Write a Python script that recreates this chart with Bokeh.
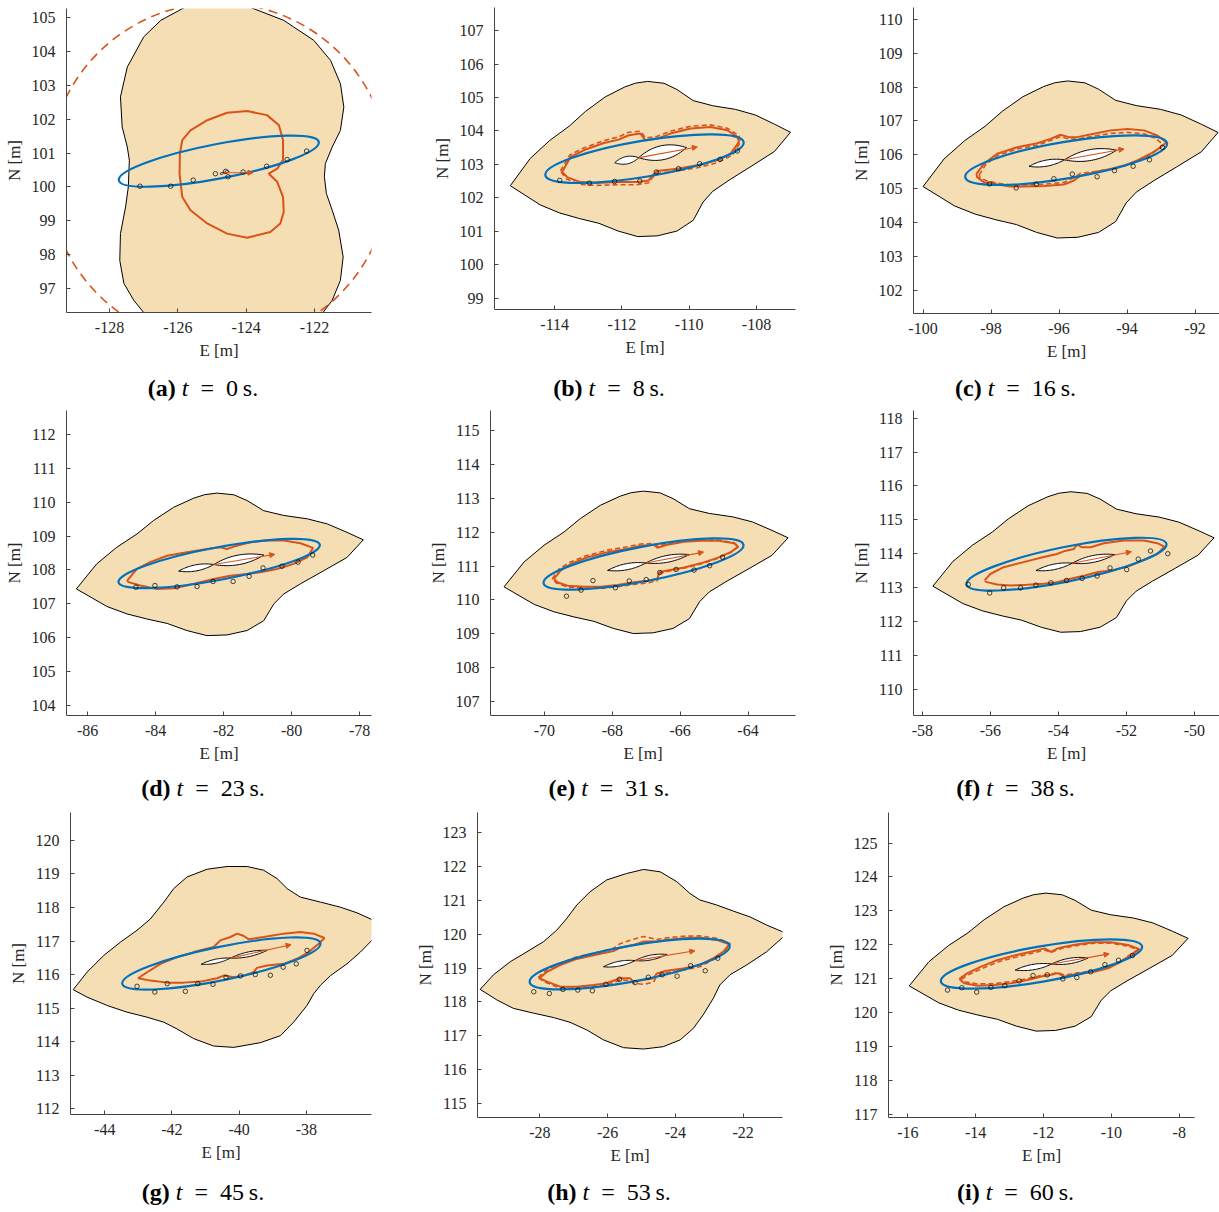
import math
from bokeh.plotting import figure
from bokeh.models import Range1d, FixedTicker, Div, Arrow, NormalHead, PrintfTickFormatter
from bokeh.layouts import row, column
from bokeh.embed import file_html
from bokeh.resources import INLINE

ORANGE = "#D95319"
BLUE = "#0072BD"
TAN = "#F5DEB3"
AXIS = "#444444"
SERIF = "Liberation Serif"

# ---------------------------------------------------------------- panels
labels = ["a", "b", "c", "d", "e", "f", "g", "h", "i"]
times = [0, 8, 16, 23, 31, 38, 45, 53, 60]

e_limits = [(-129.26, -120.33), (-115.79, -106.84), (-100.28, -91.28),
            (-86.62, -77.65), (-71.59, -62.60), (-58.26, -49.26),
            (-45.02, -36.06), (-29.84, -20.84), (-16.57, -7.55)]
n_limits = [(96.29, 105.27), (98.66, 107.69), (101.31, 110.35),
            (103.70, 112.71), (106.59, 115.59), (109.22, 118.23),
            (111.83, 120.83), (114.59, 123.59), (116.90, 125.90)]
e_ticks = [[-128, -126, -124, -122], [-114, -112, -110, -108],
           [-100, -98, -96, -94, -92], [-86, -84, -82, -80, -78],
           [-70, -68, -66, -64], [-58, -56, -54, -52, -50],
           [-44, -42, -40, -38], [-28, -26, -24, -22],
           [-16, -14, -12, -10, -8]]
n_ticks = [list(range(97, 106)), list(range(99, 108)), list(range(102, 111)),
           list(range(104, 113)), list(range(107, 116)), list(range(110, 119)),
           list(range(112, 121)), list(range(115, 124)), list(range(117, 126))]

# ---------------------------------------------------------------- safe regions
# shared outline (offsets from its centre), reused with a centre and stretch per panel
tan_template = [(-4.22, -0.725), (-3.62, 0.015), (-3.03, 0.505), (-2.44, 0.895),
                (-1.95, 1.295), (-1.36, 1.685), (-0.77, 1.955), (-0.44, 2.06),
                (-0.08, 2.105), (0.41, 2.055), (0.80, 1.885), (1.29, 1.585),
                (1.88, 1.445), (2.57, 1.345), (3.16, 1.195), (3.74, 0.945),
                (4.22, 0.725), (3.74, 0.205), (3.06, -0.185), (2.37, -0.575),
                (1.88, -0.875), (1.59, -1.165), (1.29, -1.665), (0.80, -1.955),
                (0.21, -2.085), (-0.38, -2.105), (-0.97, -1.955), (-1.55, -1.745),
                (-2.14, -1.615), (-2.73, -1.465), (-3.32, -1.245)]
# centre E, centre N, E stretch, N stretch
tan_fit_b = (-111.155, 103.16, 0.987, 1.102)
tan_fit_c = (-95.66, 105.86, 1.028, 1.102)
tan_fit_d = (-82.11, 108.165, 1.0, 1.0)
tan_fit_e = (-67.005, 111.11, 0.992, 0.998)
tan_fit_f = (-53.555, 113.755, 0.980, 0.986)
tan_fit_i = (-11.85, 121.485, 0.974, 0.967)

tan_a = [(-124.8, 105.7), (-125.5, 105.55), (-125.84, 105.28), (-126.5, 104.92),
         (-127.0, 104.43), (-127.48, 103.54), (-127.68, 102.66), (-127.63, 101.77),
         (-127.48, 101.18), (-127.42, 100.79), (-127.45, 100.0), (-127.53, 99.41),
         (-127.68, 98.62), (-127.70, 97.83), (-127.58, 97.15), (-127.29, 96.65),
         (-127.0, 96.29), (-126.51, 95.77), (-125.6, 95.35), (-124.8, 95.2),
         (-123.0, 95.4), (-122.12, 95.77), (-121.75, 96.29), (-121.48, 96.65),
         (-121.24, 97.24), (-121.16, 97.93), (-121.29, 98.72), (-121.48, 99.31),
         (-121.65, 99.80), (-121.71, 100.30), (-121.68, 100.69), (-121.48, 101.18),
         (-121.24, 101.67), (-121.14, 102.36), (-121.24, 103.05), (-121.53, 103.74),
         (-122.02, 104.33), (-122.90, 104.92), (-123.82, 105.28), (-124.3, 105.55)]

tan_g = [(-44.94, 115.55), (-44.53, 116.07), (-44.03, 116.57), (-43.53, 116.97),
         (-43.04, 117.32), (-42.64, 117.66), (-42.24, 118.16), (-41.95, 118.56),
         (-41.55, 118.91), (-40.95, 119.14), (-40.36, 119.22), (-39.76, 119.22),
         (-39.27, 119.11), (-38.87, 118.86), (-38.57, 118.56), (-38.18, 118.31),
         (-37.58, 118.16), (-36.99, 118.01), (-36.49, 117.84), (-36.05, 117.64),
         (-35.60, 117.39), (-36.05, 117.02), (-36.39, 116.67), (-36.79, 116.32),
         (-37.28, 115.97), (-37.58, 115.68), (-37.78, 115.43), (-37.98, 115.08),
         (-38.38, 114.58), (-38.77, 114.18), (-39.37, 113.97), (-40.16, 113.83),
         (-40.76, 113.87), (-41.35, 114.09), (-41.85, 114.38), (-42.24, 114.58),
         (-42.74, 114.73), (-43.34, 114.88), (-43.93, 115.08), (-44.53, 115.33)]

tan_h = [(-29.76, 118.37), (-29.37, 118.80), (-28.87, 119.19), (-28.38, 119.48),
         (-27.89, 119.78), (-27.50, 120.12), (-27.20, 120.47), (-26.91, 120.86),
         (-26.52, 121.25), (-26.03, 121.60), (-25.44, 121.79), (-24.94, 121.91),
         (-24.45, 121.84), (-23.96, 121.55), (-23.57, 121.20), (-23.28, 121.01),
         (-22.78, 120.86), (-22.29, 120.68), (-21.80, 120.51), (-21.31, 120.27),
         (-20.84, 120.07), (-20.57, 119.93), (-20.84, 119.90), (-21.31, 119.48),
         (-21.90, 119.09), (-22.39, 118.80), (-22.69, 118.50), (-22.88, 118.11),
         (-23.18, 117.62), (-23.47, 117.22), (-23.86, 116.88), (-24.36, 116.68),
         (-24.94, 116.61), (-25.53, 116.65), (-26.12, 116.88), (-26.61, 117.17),
         (-27.11, 117.40), (-27.60, 117.54), (-28.19, 117.67), (-28.78, 117.81),
         (-29.27, 118.06)]

# ---------------------------------------------------------------- orange contours
loop_a = [(-123.97, 102.24), (-123.39, 102.12), (-123.04, 101.82), (-122.92, 101.38),
          (-122.92, 100.79), (-123.09, 100.54), (-123.34, 100.39), (-123.09, 100.15),
          (-122.92, 99.70), (-122.90, 99.26), (-123.0, 98.92), (-123.29, 98.67),
          (-123.97, 98.50), (-124.56, 98.62), (-125.14, 98.92), (-125.63, 99.31),
          (-125.87, 99.70), (-125.95, 100.39), (-125.94, 100.98), (-125.87, 101.38),
          (-125.63, 101.67), (-125.14, 101.97), (-124.56, 102.19)]
circle_a = (-124.8, 100.39, 5.0)  # dashed bound: centre E, centre N, radius

loop_b = [(-113.78, 102.77), (-113.53, 103.22), (-113.14, 103.42), (-112.54, 103.64),
          (-112.10, 103.74), (-111.80, 103.87), (-111.45, 103.92), (-111.30, 103.72),
          (-110.95, 103.77), (-110.56, 103.92), (-109.96, 104.07), (-109.37, 104.12),
          (-108.87, 104.02), (-108.57, 103.82), (-108.52, 103.67), (-108.77, 103.32),
          (-109.17, 103.12), (-109.76, 102.97), (-110.36, 102.87), (-110.95, 102.80),
          (-111.10, 102.67), (-111.20, 102.52), (-111.55, 102.47), (-112.14, 102.47),
          (-112.74, 102.44), (-113.24, 102.47), (-113.63, 102.62)]
dash_b = [(-113.83, 102.80), (-113.55, 103.28), (-113.14, 103.49), (-112.54, 103.71),
          (-112.10, 103.82), (-111.80, 103.96), (-111.45, 103.99), (-111.30, 103.79),
          (-110.95, 103.84), (-110.56, 103.99), (-109.96, 104.14), (-109.37, 104.18),
          (-108.87, 104.08), (-108.52, 103.86), (-108.47, 103.67), (-108.72, 103.27),
          (-109.17, 103.05), (-109.76, 102.90), (-110.36, 102.80), (-110.95, 102.73),
          (-111.10, 102.60), (-111.20, 102.45), (-111.55, 102.39), (-112.14, 102.39),
          (-112.74, 102.37), (-113.24, 102.40), (-113.65, 102.56)]

loop_c = [(-98.43, 105.43), (-98.21, 105.73), (-97.82, 106.03), (-97.23, 106.22),
          (-96.64, 106.34), (-96.25, 106.47), (-95.96, 106.59), (-95.71, 106.52),
          (-95.47, 106.52), (-94.98, 106.62), (-94.48, 106.72), (-93.99, 106.76),
          (-93.50, 106.72), (-93.11, 106.57), (-92.84, 106.37), (-93.01, 106.22),
          (-93.31, 106.03), (-93.70, 105.83), (-94.09, 105.68), (-94.48, 105.58),
          (-94.98, 105.48), (-95.37, 105.38), (-95.56, 105.24), (-95.86, 105.12),
          (-96.45, 105.08), (-97.04, 105.06), (-97.43, 105.06), (-97.82, 105.12),
          (-98.21, 105.19), (-98.41, 105.34)]
dash_c = [(-98.35, 105.40), (-98.15, 105.72), (-97.80, 105.98), (-97.23, 106.17),
          (-96.64, 106.28), (-96.25, 106.42), (-95.96, 106.53), (-95.71, 106.47),
          (-95.47, 106.46), (-94.98, 106.55), (-94.48, 106.63), (-93.99, 106.66),
          (-93.50, 106.62), (-93.15, 106.48), (-92.95, 106.30), (-93.10, 106.15),
          (-93.35, 105.98), (-93.72, 105.80), (-94.09, 105.66), (-94.48, 105.57),
          (-94.98, 105.50), (-95.37, 105.45), (-95.56, 105.33), (-95.86, 105.18),
          (-96.45, 105.13), (-97.04, 105.10), (-97.43, 105.10), (-97.82, 105.16),
          (-98.15, 105.24), (-98.33, 105.33)]

loop_d = [(-84.84, 107.68), (-84.55, 108.03), (-84.16, 108.23), (-83.66, 108.42),
          (-83.08, 108.52), (-82.49, 108.62), (-82.09, 108.67), (-81.90, 108.62),
          (-81.70, 108.69), (-81.21, 108.82), (-80.72, 108.87), (-80.23, 108.87),
          (-79.74, 108.79), (-79.37, 108.65), (-79.54, 108.37), (-79.94, 108.18),
          (-80.43, 108.03), (-80.92, 107.93), (-81.31, 107.88), (-81.80, 107.83),
          (-82.29, 107.73), (-82.68, 107.64), (-83.08, 107.54), (-83.47, 107.46),
          (-83.96, 107.44), (-84.45, 107.54), (-84.79, 107.64)]

loop_e = [(-69.72, 110.62), (-69.52, 110.87), (-69.22, 111.06), (-68.73, 111.26),
          (-68.14, 111.41), (-67.55, 111.51), (-67.16, 111.60), (-66.77, 111.63),
          (-66.67, 111.54), (-66.38, 111.63), (-65.88, 111.72), (-65.39, 111.75),
          (-64.90, 111.75), (-64.41, 111.67), (-64.29, 111.57), (-64.51, 111.41),
          (-64.90, 111.24), (-65.39, 111.08), (-65.88, 110.96), (-66.38, 110.87),
          (-66.62, 110.82), (-66.67, 110.62), (-66.96, 110.57), (-67.36, 110.52),
          (-67.85, 110.44), (-68.34, 110.39), (-68.83, 110.39), (-69.32, 110.42),
          (-69.62, 110.52)]
dash_e = [(-69.77, 110.62), (-69.57, 110.91), (-69.25, 111.11), (-68.73, 111.32),
          (-68.14, 111.47), (-67.55, 111.57), (-67.16, 111.65), (-66.77, 111.67),
          (-66.67, 111.58), (-66.38, 111.66), (-65.88, 111.74), (-65.39, 111.77),
          (-64.90, 111.77), (-64.41, 111.69), (-64.27, 111.58), (-64.51, 111.40),
          (-64.90, 111.22), (-65.39, 111.06), (-65.88, 110.94), (-66.38, 110.84),
          (-66.62, 110.78), (-66.67, 110.57), (-66.96, 110.50), (-67.36, 110.46),
          (-67.85, 110.39), (-68.34, 110.34), (-68.83, 110.35), (-69.32, 110.38),
          (-69.65, 110.50)]

loop_f = [(-56.17, 113.21), (-56.00, 113.40), (-55.61, 113.60), (-55.02, 113.75),
          (-54.43, 113.90), (-54.04, 113.99), (-53.84, 114.07), (-53.54, 114.14),
          (-53.45, 114.27), (-53.30, 114.19), (-53.05, 114.19), (-52.66, 114.31),
          (-52.07, 114.39), (-51.48, 114.39), (-51.09, 114.31), (-50.88, 114.21),
          (-51.09, 113.99), (-51.48, 113.82), (-51.88, 113.65), (-52.37, 113.52),
          (-52.86, 113.45), (-53.25, 113.35), (-53.64, 113.26), (-54.04, 113.16),
          (-54.43, 113.11), (-54.92, 113.08), (-55.41, 113.06), (-55.80, 113.09),
          (-56.10, 113.16)]

loop_g = [(-43.01, 115.89), (-42.74, 116.07), (-42.34, 116.32), (-41.85, 116.52),
          (-41.35, 116.67), (-40.76, 116.82), (-40.56, 117.02), (-40.26, 117.12),
          (-40.06, 117.22), (-39.86, 117.15), (-39.71, 117.05), (-39.27, 117.12),
          (-38.67, 117.22), (-38.18, 117.27), (-37.78, 117.22), (-37.46, 117.09),
          (-37.63, 116.92), (-37.93, 116.67), (-38.28, 116.47), (-38.67, 116.32),
          (-39.17, 116.27), (-39.47, 116.20), (-39.57, 116.07), (-39.86, 115.97),
          (-40.16, 115.92), (-40.46, 115.97), (-40.66, 115.89), (-41.15, 115.79),
          (-41.65, 115.76), (-42.14, 115.76), (-42.64, 115.82)]

loop_h = [(-28.01, 118.70), (-27.79, 118.89), (-27.40, 119.09), (-26.91, 119.27),
          (-26.32, 119.40), (-25.83, 119.50), (-25.63, 119.60), (-25.24, 119.68),
          (-24.94, 119.78), (-24.55, 119.78), (-24.26, 119.83), (-23.77, 119.88),
          (-23.28, 119.90), (-22.78, 119.83), (-22.41, 119.70), (-22.59, 119.48),
          (-22.88, 119.29), (-23.28, 119.09), (-23.77, 118.99), (-24.26, 118.92),
          (-24.55, 118.84), (-24.65, 118.70), (-24.94, 118.65), (-25.24, 118.60),
          (-25.34, 118.70), (-25.63, 118.70), (-26.03, 118.55), (-26.42, 118.50),
          (-26.91, 118.45), (-27.40, 118.45), (-27.79, 118.60)]
dash_h = [(-28.05, 118.72), (-27.82, 118.93), (-27.42, 119.14), (-26.91, 119.33),
          (-26.32, 119.46), (-25.83, 119.58), (-25.63, 119.72), (-25.24, 119.85),
          (-24.94, 119.93), (-24.70, 119.88), (-24.55, 119.84), (-24.26, 119.89),
          (-23.77, 119.94), (-23.28, 119.95), (-22.78, 119.88), (-22.38, 119.72),
          (-22.57, 119.45), (-22.88, 119.25), (-23.28, 119.04), (-23.77, 118.94),
          (-24.26, 118.86), (-24.55, 118.76), (-24.65, 118.58), (-24.94, 118.52),
          (-25.24, 118.55), (-25.34, 118.64), (-25.63, 118.64), (-26.03, 118.50),
          (-26.42, 118.45), (-26.91, 118.40), (-27.40, 118.41), (-27.82, 118.57)]

loop_i = [(-14.48, 120.99), (-14.24, 121.16), (-13.84, 121.35), (-13.35, 121.55),
          (-12.86, 121.68), (-12.37, 121.79), (-11.97, 121.89), (-11.78, 121.79),
          (-11.58, 121.89), (-11.38, 121.94), (-10.99, 122.01), (-10.50, 122.07),
          (-10.01, 122.07), (-9.51, 121.99), (-9.17, 121.87), (-9.42, 121.70),
          (-9.71, 121.50), (-10.10, 121.30), (-10.50, 121.20), (-10.99, 121.14),
          (-11.38, 121.06), (-11.58, 121.16), (-11.78, 121.11), (-12.07, 121.06),
          (-12.47, 120.96), (-12.96, 120.86), (-13.45, 120.81), (-13.94, 120.79),
          (-14.34, 120.86)]
dash_i = [(-14.42, 120.98), (-14.20, 121.12), (-13.80, 121.30), (-13.35, 121.49),
          (-12.86, 121.62), (-12.37, 121.74), (-11.97, 121.84), (-11.78, 121.77),
          (-11.58, 121.86), (-11.38, 121.91), (-10.99, 121.98), (-10.50, 122.04),
          (-10.01, 122.04), (-9.51, 121.96), (-9.22, 121.85), (-9.45, 121.70),
          (-9.71, 121.52), (-10.10, 121.33), (-10.50, 121.23), (-10.99, 121.17),
          (-11.38, 121.10), (-11.58, 121.18), (-11.78, 121.13), (-12.07, 121.09),
          (-12.47, 121.00), (-12.96, 120.91), (-13.45, 120.85), (-13.94, 120.84),
          (-14.30, 120.90)]

# ---------------------------------------------------------------- confidence ellipses
# centre E, centre N, semi-major, semi-minor, orientation [deg]
ellipses = [(-124.80, 100.76, 2.98, 0.51, 10.85), (-111.33, 103.17, 2.99, 0.54, 9.5),
            (-95.79, 105.84, 3.01, 0.54, 9.6), (-82.13, 108.19, 3.01, 0.48, 10.6),
            (-67.08, 111.06, 3.00, 0.51, 10.9), (-53.76, 113.69, 3.00, 0.51, 11.5),
            (-40.53, 116.33, 3.01, 0.50, 11.6), (-25.35, 119.12, 3.00, 0.53, 10.35),
            (-12.06, 121.43, 3.01, 0.52, 9.9)]

# ---------------------------------------------------------------- measurements
meas_a = [(-127.11, 100.02), (-126.21, 100.02), (-125.55, 100.20), (-124.90, 100.39),
          (-124.60, 100.46), (-124.53, 100.30), (-124.09, 100.44), (-123.40, 100.61),
          (-122.80, 100.81), (-122.23, 101.06)]
meas_b = [(-113.85, 102.52), (-112.97, 102.44), (-112.22, 102.49), (-111.47, 102.50),
          (-110.98, 102.77), (-110.32, 102.87), (-109.69, 103.02), (-109.08, 103.15),
          (-108.57, 103.40)]
meas_c = [(-98.04, 105.14), (-97.26, 105.02), (-96.67, 105.13), (-96.15, 105.29),
          (-95.61, 105.43), (-94.88, 105.35), (-94.37, 105.53), (-93.82, 105.66),
          (-93.34, 105.85), (-92.96, 106.22)]
meas_d = [(-84.58, 107.49), (-84.02, 107.54), (-83.37, 107.50), (-82.78, 107.51),
          (-82.31, 107.66), (-81.72, 107.66), (-81.25, 107.81), (-80.84, 108.06),
          (-80.28, 108.11), (-79.81, 108.23), (-79.38, 108.44)]
meas_e = [(-69.35, 110.11), (-68.92, 110.29), (-68.57, 110.57), (-67.91, 110.36),
          (-67.50, 110.56), (-67.00, 110.60), (-66.60, 110.81), (-66.12, 110.90),
          (-65.59, 110.88), (-65.13, 111.01), (-64.75, 111.26)]
meas_f = [(-56.65, 113.09), (-56.02, 112.84), (-55.61, 112.99), (-55.11, 112.99),
          (-54.66, 113.07), (-54.22, 113.14), (-53.76, 113.21), (-53.30, 113.27),
          (-52.86, 113.34), (-52.48, 113.58), (-51.99, 113.53), (-51.65, 113.84),
          (-51.29, 114.08), (-50.78, 114.00)]
meas_g = [(-43.04, 115.65), (-42.51, 115.48), (-42.14, 115.73), (-41.60, 115.50),
          (-41.23, 115.73), (-40.78, 115.71), (-40.39, 115.92), (-39.96, 115.96),
          (-39.52, 116.00), (-39.07, 115.98), (-38.69, 116.22), (-38.30, 116.32),
          (-37.98, 116.72)]
meas_h = [(-28.18, 118.30), (-27.72, 118.25), (-27.32, 118.37), (-26.88, 118.35),
          (-26.45, 118.33), (-26.05, 118.52), (-25.65, 118.67), (-25.19, 118.57),
          (-24.80, 118.73), (-24.39, 118.80), (-23.95, 118.76), (-23.55, 119.07),
          (-23.12, 118.92), (-22.75, 119.29)]
meas_i = [(-14.83, 120.66), (-14.41, 120.73), (-13.97, 120.60), (-13.55, 120.74),
          (-13.14, 120.79), (-12.72, 120.93), (-12.31, 121.09), (-11.89, 121.11),
          (-11.43, 120.99), (-11.02, 121.03), (-10.61, 121.20), (-10.19, 121.41),
          (-9.79, 121.54), (-9.38, 121.68)]

# ---------------------------------------------------------------- vessel
# pivot E, pivot N, heading [deg], aft length, fore length, aft half-beam,
# fore half-beam, velocity arrow length, velocity arrow direction [deg]
vessels = [(-124.65, 100.42, 18, 0.12, 0.16, 0.025, 0.03, 0.85, 0),
           (-111.50, 103.20, 12, 0.73, 1.45, 0.11, 0.21, 1.77, 10.4),
           (-95.84, 105.85, 10.5, 1.06, 1.56, 0.09, 0.16, 1.78, 10.4),
           (-82.29, 108.16, 10.7, 1.05, 1.50, 0.09, 0.14, 1.82, 9.5),
           (-67.01, 111.09, 11.0, 1.15, 1.30, 0.09, 0.10, 1.73, 10.7),
           (-53.59, 113.72, 11.5, 1.09, 1.27, 0.08, 0.10, 1.77, 11.0),
           (-40.26, 116.49, 12.0, 0.89, 1.12, 0.06, 0.07, 1.85, 12.5),
           (-25.19, 119.22, 11.0, 0.95, 0.95, 0.07, 0.07, 1.79, 9.3),
           (-11.76, 121.43, 9.5, 1.09, 1.09, 0.08, 0.08, 1.72, 10.0)]

tan_outlines = {"a": tan_a, "g": tan_g, "h": tan_h}
tan_fits = {"b": tan_fit_b, "c": tan_fit_c, "d": tan_fit_d,
            "e": tan_fit_e, "f": tan_fit_f, "i": tan_fit_i}
solid_loops = [loop_a, loop_b, loop_c, loop_d, loop_e, loop_f, loop_g, loop_h, loop_i]
dashed_loops = [None, dash_b, dash_c, None, dash_e, None, None, dash_h, dash_i]
measurements = [meas_a, meas_b, meas_c, meas_d, meas_e, meas_f, meas_g, meas_h, meas_i]

# page geometry: cell width, cell height, frame left, frame top, frame width, frame height
cells = [(406, 376, 66, 8, 305, 304), (406, 376, 88, 7, 301, 302), (407, 376, 101, 7, 306, 306),
         (406, 374, 66, 8, 305, 305), (406, 374, 84, 8, 305, 305), (407, 374, 101, 8, 306, 305),
         (406, 376, 70, 8, 301, 302), (406, 376, 71, 8, 305, 305), (407, 376, 76, 8, 306, 305)]
caption_heights = [26, 26, 26, 28, 28, 28, 32, 32, 32]


def unzip(points, close=False):
    xs = [p[0] for p in points]
    ys = [p[1] for p in points]
    if close:
        xs.append(xs[0])
        ys.append(ys[0])
    return xs, ys


def tan_outline(k):
    if k in tan_outlines:
        return unzip(tan_outlines[k])
    ce, cn, se, sn = tan_fits[k]
    return ([ce + dx * se for dx, _ in tan_template],
            [cn + dy * sn for _, dy in tan_template])


def lens(e0, n0, heading, length, half_beam, sign):
    th = math.radians(heading)
    ux, uy = math.cos(th), math.sin(th)
    vx, vy = -uy, ux
    steps = 28
    xs, ys = [], []
    for side in (1, -1):
        rng = range(steps + 1) if side == 1 else range(steps, -1, -1)
        for j in rng:
            s = j / steps
            w = side * half_beam * 4 * s * (1 - s)
            xs.append(e0 + sign * ux * length * s + vx * w)
            ys.append(n0 + sign * uy * length * s + vy * w)
    return xs, ys


def style_axis(ax, ticks, label_standoff, axis_standoff):
    ax.ticker = FixedTicker(ticks=ticks)
    ax.formatter = PrintfTickFormatter(format="%d")
    ax.major_tick_in = 4
    ax.major_tick_out = 0
    ax.minor_tick_line_color = None
    ax.axis_line_color = AXIS
    ax.major_tick_line_color = AXIS
    ax.axis_line_width = 1
    ax.major_label_text_font = SERIF
    ax.major_label_text_font_size = "16px"
    ax.major_label_text_color = "#262626"
    ax.major_label_standoff = label_standoff
    ax.axis_label_text_font = SERIF
    ax.axis_label_text_font_size = "17px"
    ax.axis_label_text_font_style = "normal"
    ax.axis_label_text_color = "#262626"
    ax.axis_label_standoff = axis_standoff


def make_panel(idx):
    k = labels[idx]
    cw, ch, fl, ft, fw, fh = cells[idx]
    p = figure(width=cw, height=ch,
               x_range=Range1d(*e_limits[idx]), y_range=Range1d(*n_limits[idx]),
               output_backend="svg", toolbar_location=None,
               min_border_left=fl, min_border_top=ft,
               min_border_right=cw - fl - fw, min_border_bottom=ch - ft - fh,
               x_axis_label="E [m]", y_axis_label="N [m]")
    p.outline_line_color = None
    p.grid.visible = False
    p.background_fill_color = "white"
    p.border_fill_color = "white"
    style_axis(p.xaxis[0], e_ticks[idx], 9, 5)
    style_axis(p.yaxis[0], n_ticks[idx], 11, 5)

    tx, ty = tan_outline(k)
    p.patch(tx, ty, fill_color=TAN, line_color="black", line_width=1)

    if k == "a":
        ce, cn, r = circle_a
        p.circle(x=[ce], y=[cn], radius=r, fill_color=None, line_color=ORANGE,
                 line_width=1.6, line_dash="9 6")
    if dashed_loops[idx] is not None:
        dx, dy = unzip(dashed_loops[idx], close=True)
        p.line(dx, dy, line_color=ORANGE, line_width=1.6, line_dash="5 3")
    sx, sy = unzip(solid_loops[idx], close=True)
    p.line(sx, sy, line_color=ORANGE, line_width=2)

    ee, en, ea, eb, eang = ellipses[idx]
    p.ellipse(x=[ee], y=[en], width=[2 * ea], height=[2 * eb],
              angle=[math.radians(eang)], fill_color=None,
              line_color=BLUE, line_width=2.2)

    mx, my = unzip(measurements[idx])
    p.scatter(mx, my, marker="circle", size=4.5, fill_color=None,
              line_color="black", line_width=0.7)

    ve, vn, hd, la, lf, ba, bf, alen, adir = vessels[idx]
    aft = lens(ve, vn, hd, la, ba, -1)
    fore = lens(ve, vn, hd, lf, bf, 1)
    p.patches([aft[0], fore[0]], [aft[1], fore[1]], fill_color="white",
              line_color="black", line_width=1)
    th = math.radians(adir)
    p.add_layout(Arrow(end=NormalHead(size=5, fill_color=ORANGE, line_color=ORANGE),
                       x_start=ve, y_start=vn,
                       x_end=ve + alen * math.cos(th), y_end=vn + alen * math.sin(th),
                       line_color=ORANGE, line_width=1.1))
    return p


def make_caption(idx):
    cw = cells[idx][0]
    text = (f"<b>({labels[idx]})</b>&nbsp;<i>t</i>&ensp;=&ensp;"
            f"{times[idx]}&thinsp;s.")
    return Div(text=text, width=cw, height=caption_heights[idx], margin=(0, 0, 0, 0),
               styles={"font-family": SERIF, "font-size": "24px", "line-height": "25px",
                       "text-align": "center", "color": "black"})


rows = []
for r in range(3):
    cols = []
    for c in range(3):
        idx = 3 * r + c
        cols.append(column(make_panel(idx), make_caption(idx), spacing=0))
    rows.append(row(*cols, spacing=0))
layout = column(*rows, spacing=0)

open("out.html", "w").write(file_html(layout, INLINE, title="Safe region snapshots"))
